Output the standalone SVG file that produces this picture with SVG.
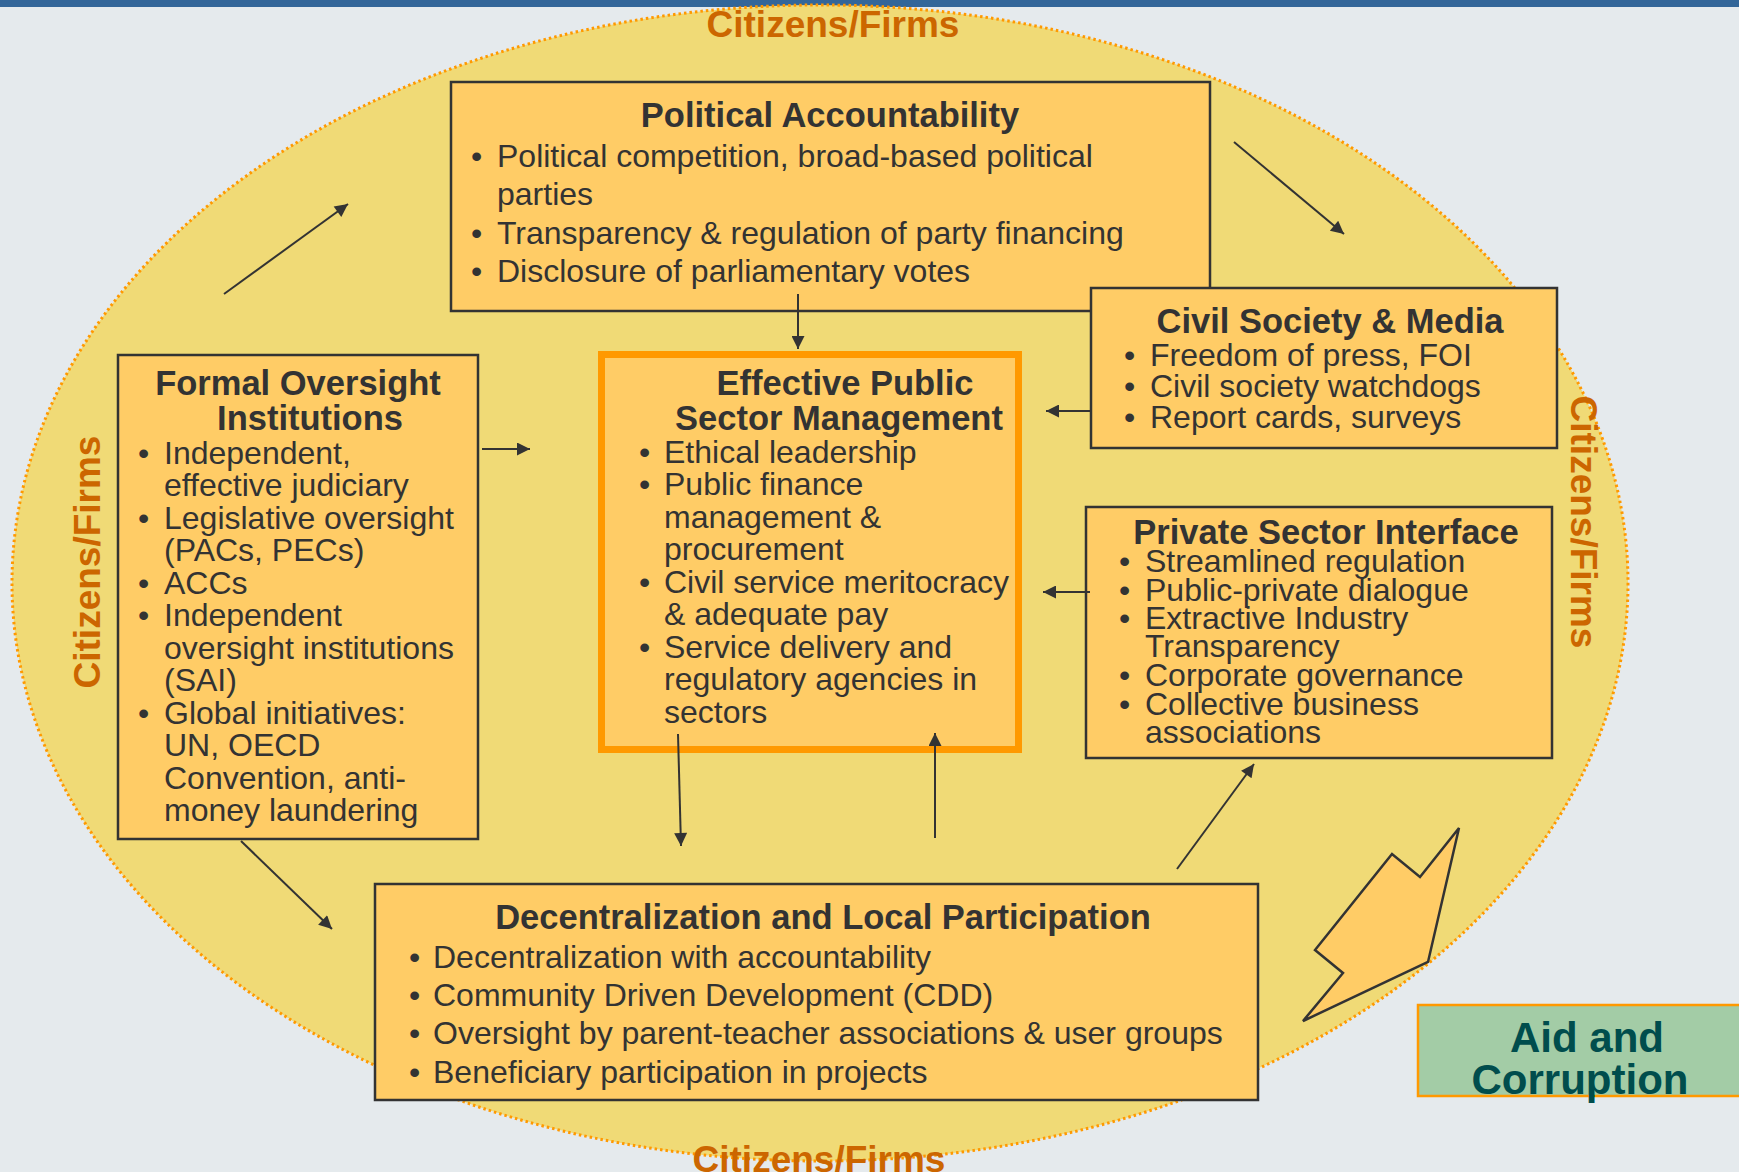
<svg xmlns="http://www.w3.org/2000/svg" width="1739" height="1172" viewBox="0 0 1739 1172">
<defs>
<style>
.box{fill:#FFCC66;stroke:#333333;stroke-width:2.5}
.t{font-family:"Liberation Sans",Arial,sans-serif;fill:#333333}
.h{font-size:34.5px;font-weight:bold;text-anchor:middle}
.b{font-size:32px}
.cf{font-family:"Liberation Sans",Arial,sans-serif;font-size:37px;font-weight:bold;fill:#CC6600;text-anchor:middle}
.con{stroke:#333333;stroke-width:2;fill:none;marker-end:url(#ah)}
</style>
<marker id="ah" viewBox="0 0 10 10" refX="10" refY="5" markerWidth="16" markerHeight="13" markerUnits="userSpaceOnUse" orient="auto">
<path d="M0,0 L10,5 L0,10 z" fill="#333333"/>
</marker>
</defs>
<rect x="0" y="0" width="1739" height="1172" fill="#E5EAED"/>
<rect x="0" y="0" width="1739" height="7" fill="#336699"/>
<ellipse cx="820" cy="583" rx="808" ry="578" fill="#F0DA76" stroke="#FF9900" stroke-width="3" stroke-dasharray="2.5 3"/>
<text class="cf" x="833" y="37">Citizens/Firms</text>
<text class="cf" x="819" y="1172">Citizens/Firms</text>
<text class="cf" transform="translate(100,562) rotate(-90)">Citizens/Firms</text>
<text class="cf" transform="translate(1571,522) rotate(90)">Citizens/Firms</text>

<g id="political-accountability">
<rect class="box" x="451" y="82" width="759" height="229"/>
<text class="t h" x="830" y="127">Political Accountability</text>
<text class="t b" x="471" y="167">•</text>
<text class="t b" x="497" y="167">Political competition, broad-based political</text>
<text class="t b" x="497" y="205">parties</text>
<text class="t b" x="471" y="244">•</text>
<text class="t b" x="497" y="244">Transparency &amp; regulation of party financing</text>
<text class="t b" x="471" y="282">•</text>
<text class="t b" x="497" y="282">Disclosure of parliamentary votes</text>
</g>

<g id="civil-society-media">
<rect class="box" x="1091" y="288" width="466" height="160"/>
<text class="t h" x="1330" y="333">Civil Society &amp; Media</text>
<text class="t b" x="1124" y="366">•</text>
<text class="t b" x="1150" y="366">Freedom of press, FOI</text>
<text class="t b" x="1124" y="397">•</text>
<text class="t b" x="1150" y="397">Civil society watchdogs</text>
<text class="t b" x="1124" y="428">•</text>
<text class="t b" x="1150" y="428">Report cards, surveys</text>
</g>

<g id="formal-oversight">
<rect class="box" x="118" y="355" width="360" height="484"/>
<text class="t h" x="298" y="395">Formal Oversight</text>
<text class="t h" x="310" y="430">Institutions</text>
<text class="t b" x="138" y="464">•</text>
<text class="t b" x="164" y="464">Independent,</text>
<text class="t b" x="164" y="496">effective judiciary</text>
<text class="t b" x="138" y="529">•</text>
<text class="t b" x="164" y="529">Legislative oversight</text>
<text class="t b" x="164" y="561">(PACs, PECs)</text>
<text class="t b" x="138" y="594">•</text>
<text class="t b" x="164" y="594">ACCs</text>
<text class="t b" x="138" y="626">•</text>
<text class="t b" x="164" y="626">Independent</text>
<text class="t b" x="164" y="659">oversight institutions</text>
<text class="t b" x="164" y="691">(SAI)</text>
<text class="t b" x="138" y="724">•</text>
<text class="t b" x="164" y="724">Global initiatives:</text>
<text class="t b" x="164" y="756">UN, OECD</text>
<text class="t b" x="164" y="789">Convention, anti-</text>
<text class="t b" x="164" y="821">money laundering</text>
</g>

<g id="effective-psm">
<rect x="601.5" y="354.5" width="417" height="395" fill="#FFCC66" stroke="#FF9900" stroke-width="7"/>
<text class="t h" x="845" y="395">Effective Public</text>
<text class="t h" x="839" y="430">Sector Management</text>
<text class="t b" x="639" y="463">•</text>
<text class="t b" x="664" y="463">Ethical leadership</text>
<text class="t b" x="639" y="495">•</text>
<text class="t b" x="664" y="495">Public finance</text>
<text class="t b" x="664" y="528">management &amp;</text>
<text class="t b" x="664" y="560">procurement</text>
<text class="t b" x="639" y="593">•</text>
<text class="t b" x="664" y="593">Civil service meritocracy</text>
<text class="t b" x="664" y="625">&amp; adequate pay</text>
<text class="t b" x="639" y="658">•</text>
<text class="t b" x="664" y="658">Service delivery and</text>
<text class="t b" x="664" y="690">regulatory agencies in</text>
<text class="t b" x="664" y="723">sectors</text>
</g>

<g id="private-sector">
<rect class="box" x="1086" y="507" width="466" height="251"/>
<text class="t h" x="1326" y="544">Private Sector Interface</text>
<text class="t b" x="1119" y="572">•</text>
<text class="t b" x="1145" y="572">Streamlined regulation</text>
<text class="t b" x="1119" y="601">•</text>
<text class="t b" x="1145" y="601">Public-private dialogue</text>
<text class="t b" x="1119" y="629">•</text>
<text class="t b" x="1145" y="629">Extractive Industry</text>
<text class="t b" x="1145" y="657">Transparency</text>
<text class="t b" x="1119" y="686">•</text>
<text class="t b" x="1145" y="686">Corporate governance</text>
<text class="t b" x="1119" y="715">•</text>
<text class="t b" x="1145" y="715">Collective business</text>
<text class="t b" x="1145" y="743">associations</text>
</g>

<g id="decentralization">
<rect class="box" x="375" y="884" width="883" height="216"/>
<text class="t h" x="823" y="929">Decentralization and Local Participation</text>
<text class="t b" x="409" y="968">•</text>
<text class="t b" x="433" y="968">Decentralization with accountability</text>
<text class="t b" x="409" y="1006">•</text>
<text class="t b" x="433" y="1006">Community Driven Development (CDD)</text>
<text class="t b" x="409" y="1044">•</text>
<text class="t b" x="433" y="1044">Oversight by parent-teacher associations &amp; user groups</text>
<text class="t b" x="409" y="1083">•</text>
<text class="t b" x="433" y="1083">Beneficiary participation in projects</text>
</g>

<g id="connectors">
<line class="con" x1="224" y1="294" x2="348" y2="204"/>
<line class="con" x1="1234" y1="142" x2="1344" y2="234"/>
<line class="con" x1="798" y1="294" x2="798" y2="349"/>
<line class="con" x1="482" y1="449" x2="530" y2="449"/>
<line class="con" x1="1090" y1="411" x2="1046" y2="411"/>
<line class="con" x1="1090" y1="592" x2="1043" y2="592"/>
<line class="con" x1="678" y1="734" x2="681" y2="846"/>
<line class="con" x1="935" y1="838" x2="935" y2="733"/>
<line class="con" x1="241" y1="841" x2="332" y2="929"/>
<line class="con" x1="1177" y1="869" x2="1254" y2="764"/>
</g>

<g id="bolt-arrow">
<polygon points="1459,828 1420,877 1392,854 1315,950 1343,973 1303,1021 1428,962" fill="#FFCC66" stroke="#333333" stroke-width="2.5" stroke-linejoin="miter"/>
</g>

<g id="aid-corruption">
<rect x="1418" y="1005" width="330" height="91" fill="#A3CCA6" stroke="#FF9900" stroke-width="2.5"/>
<text x="1587" y="1052" font-family="Liberation Sans, Arial, sans-serif" font-size="42" font-weight="bold" fill="#004D4D" text-anchor="middle">Aid and</text>
<text x="1580" y="1094" font-family="Liberation Sans, Arial, sans-serif" font-size="42" font-weight="bold" fill="#004D4D" text-anchor="middle">Corruption</text>
</g>
</svg>
